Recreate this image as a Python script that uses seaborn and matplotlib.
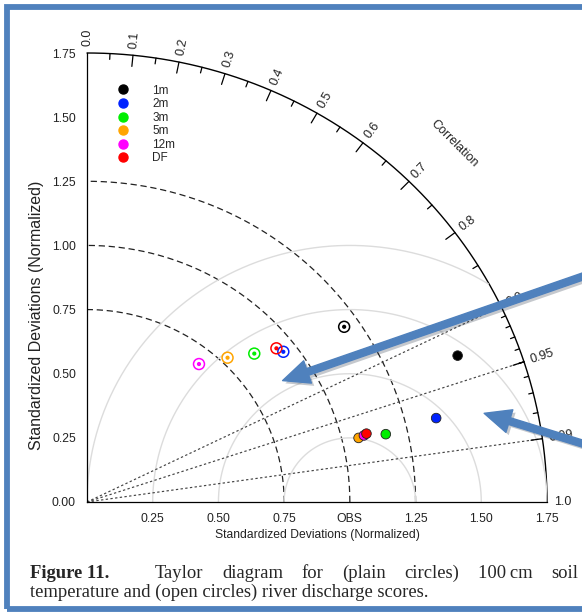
import numpy as np
import pandas as pd
import matplotlib
matplotlib.use("Agg")
import matplotlib.pyplot as plt
import matplotlib.patheffects as pe
from matplotlib.lines import Line2D
from matplotlib.patches import FancyArrowPatch, Rectangle
import seaborn as sns

# values: normalized standard deviation and correlation
models = ["1m", "2m", "3m", "5m", "12m", "DF"]
colors = ["#000000", "#0022FF", "#00EE00", "#FFA500", "#FF00FF", "#FF0000"]

soil_sd = [1.521, 1.368, 1.167, 1.063, 1.085, 1.096]
soil_corr = [0.927, 0.971, 0.974, 0.972, 0.971, 0.970]

river_sd = [1.193, 0.949, 0.860, 0.776, 0.686, 0.937]
river_corr = [0.820, 0.787, 0.740, 0.689, 0.621, 0.769]

max_sd = 1.75
sd_arcs = [0.75, 1.0, 1.25]
rms_arcs = [0.25, 0.5, 0.75, 1.0]
corr_lines = [0.9, 0.95, 0.99]
corr_labels = [0.0, 0.1, 0.2, 0.3, 0.4, 0.5, 0.6, 0.7, 0.8, 0.9, 0.95, 0.99, 1.0]
x_ticks = [0.25, 0.5, 0.75, 1.0, 1.25, 1.5, 1.75]
x_ticklabels = ["0.25", "0.50", "0.75", "OBS", "1.25", "1.50", "1.75"]
y_ticks = [0.0, 0.25, 0.5, 0.75, 1.0, 1.25, 1.5, 1.75]

caption_words = ["Taylor", "diagram", "for", "(plain", "circles)", "100\u2009cm", "soil"]

sns.set_style("white")
plt.rcParams["font.family"] = ["Liberation Sans", "DejaVu Sans"]

soil = pd.DataFrame({"model": models, "sd": soil_sd, "corr": soil_corr})
river = pd.DataFrame({"model": models, "sd": river_sd, "corr": river_corr})
for d in (soil, river):
    d["x"] = d["sd"] * d["corr"]
    d["y"] = d["sd"] * np.sin(np.arccos(d["corr"]))
pal = dict(zip(models, colors))

fig = plt.figure(figsize=(5.82, 6.13), dpi=100)
ax = fig.add_axes([87 / 582, 111 / 613, 460 / 582, 449 / 613])

# outer arc, std dev arcs (dashed) and centred RMS arcs (grey)
t = np.linspace(0, np.pi / 2, 300)
ax.plot(max_sd * np.cos(t), max_sd * np.sin(t), color="black", lw=1, clip_on=False)
for r in sd_arcs:
    ax.plot(r * np.cos(t), r * np.sin(t), color="#222222", lw=0.9, ls=(0, (5, 3)))
phi = np.linspace(0, np.pi, 400)
for r in rms_arcs:
    xx = 1 + r * np.cos(phi)
    yy = r * np.sin(phi)
    keep = (xx ** 2 + yy ** 2 <= max_sd ** 2 + 1e-9) & (xx >= 0)
    ax.plot(xx[keep], yy[keep], color="#dcdcdc", lw=1)

for c in corr_lines:
    th = np.arccos(c)
    ax.plot([0, max_sd * np.cos(th)], [0, max_sd * np.sin(th)],
            color="#444444", lw=0.85, ls=(0, (2, 2)))

# ticks on the correlation arc
big = np.arange(0.1, 0.91, 0.1).tolist() + [0.95, 0.99]
med = np.arange(0.05, 0.96, 0.1).tolist()
small = np.arange(0.91, 0.99, 0.01).tolist()
for vals, frac in ((big, 0.975), (med, 0.987), (small, 0.99)):
    for c in vals:
        th = np.arccos(c)
        ax.plot([max_sd * np.cos(th), frac * max_sd * np.cos(th)],
                [max_sd * np.sin(th), frac * max_sd * np.sin(th)],
                color="black", lw=0.9, clip_on=False)
for c in corr_labels:
    th = np.arccos(c)
    ax.text(1.015 * max_sd * np.cos(th), 1.015 * max_sd * np.sin(th),
            f"{c:g}" if c not in (0.0, 1.0) else f"{c:.1f}",
            rotation=np.degrees(th), rotation_mode="anchor", ha="left", va="center",
            fontsize=9, color="#222222")
ax.text(1.13 * max_sd * np.cos(np.pi / 4), 1.13 * max_sd * np.sin(np.pi / 4), "Correlation",
        rotation=-45, ha="center", va="center", fontsize=9, color="#222222")

# points: filled = soil temperature, open = river discharge
sns.scatterplot(data=soil, x="x", y="y", hue="model", palette=pal, s=48,
                edgecolor="#222222", linewidth=0.6, legend=False, ax=ax, zorder=5, clip_on=False)
ax.scatter(river["x"], river["y"], s=62, facecolors="none",
           edgecolors=[pal[m] for m in river["model"]], linewidths=1.1, zorder=5)
ax.scatter(river["x"], river["y"], s=4, c=[pal[m] for m in river["model"]], zorder=5)

handles = [Line2D([], [], ls="none", marker="o", markersize=6.5, color=pal[m]) for m in models]
ax.legend(handles, models, loc="upper left", bbox_to_anchor=(0.047, 0.948), frameon=False,
          fontsize=8.5, labelspacing=0.13, handlelength=1.0, handletextpad=2.0,
          borderpad=0.2)

ax.set_xlim(0, max_sd)
ax.set_ylim(0, max_sd)
sns.despine(ax=ax)
ax.set_xticks(x_ticks)
ax.set_xticklabels(x_ticklabels)
ax.set_yticks(y_ticks)
ax.set_yticklabels([f"{v:.2f}" for v in y_ticks])
ax.tick_params(direction="in", length=8, width=0.9, labelsize=8.8, colors="#222222")
ax.tick_params(axis="x", pad=8)
ax.tick_params(axis="y", pad=8)
for s in ("left", "bottom"):
    ax.spines[s].set_color("black")
    ax.spines[s].set_linewidth(0.9)
ax.set_xlabel("Standardized Deviations (Normalized)", fontsize=8.7, labelpad=3, color="#222222")
ax.set_ylabel("Standardized Deviations (Normalized)", fontsize=11.5, color="#222222")
ax.yaxis.set_label_coords(-0.094, 0.416)

# caption, first line justified to the right edge
serif = ["Liberation Serif", "DejaVu Serif"]
cap_size = 13.4
fig.text(30 / 582, 35 / 613, "Figure 11.", family=serif, fontsize=cap_size, fontweight="bold")
fig.text(30 / 582, 16 / 613, "temperature and (open circles) river discharge scores.",
         family=serif, fontsize=cap_size)
renderer = fig.canvas.get_renderer()
word_txt = [fig.text(0, 35 / 613, w, family=serif, fontsize=cap_size) for w in caption_words]
widths = [w.get_window_extent(renderer).width for w in word_txt]
start, end = 155, 578
gap = (end - start - sum(widths)) / (len(widths) - 1)
xpos = start
for w, wd in zip(word_txt, widths):
    w.set_x(xpos / 582)
    xpos += wd + gap

# overlaid arrows and border of the screenshot
shadow = [pe.withSimplePatchShadow(offset=(2, -2), alpha=0.25)]
for tail, tip in (((600, 342.5), (280, 231.5)), ((600, 164), (481.5, 200.5))):
    fig.add_artist(FancyArrowPatch((tail[0] / 582, tail[1] / 613), (tip[0] / 582, tip[1] / 613),
                                   transform=fig.transFigure,
                                   arrowstyle="simple,head_length=1.9,head_width=1.7,tail_width=0.5",
                                   mutation_scale=10, color="#4F81BD", path_effects=shadow, zorder=10))
fig.add_artist(Rectangle((6.5 / 582, 4.5 / 613), 600 / 582, 602 / 613, transform=fig.transFigure,
                         fill=False, edgecolor="#4F81BD", lw=4.2))

fig.savefig("out.png", dpi=100)
